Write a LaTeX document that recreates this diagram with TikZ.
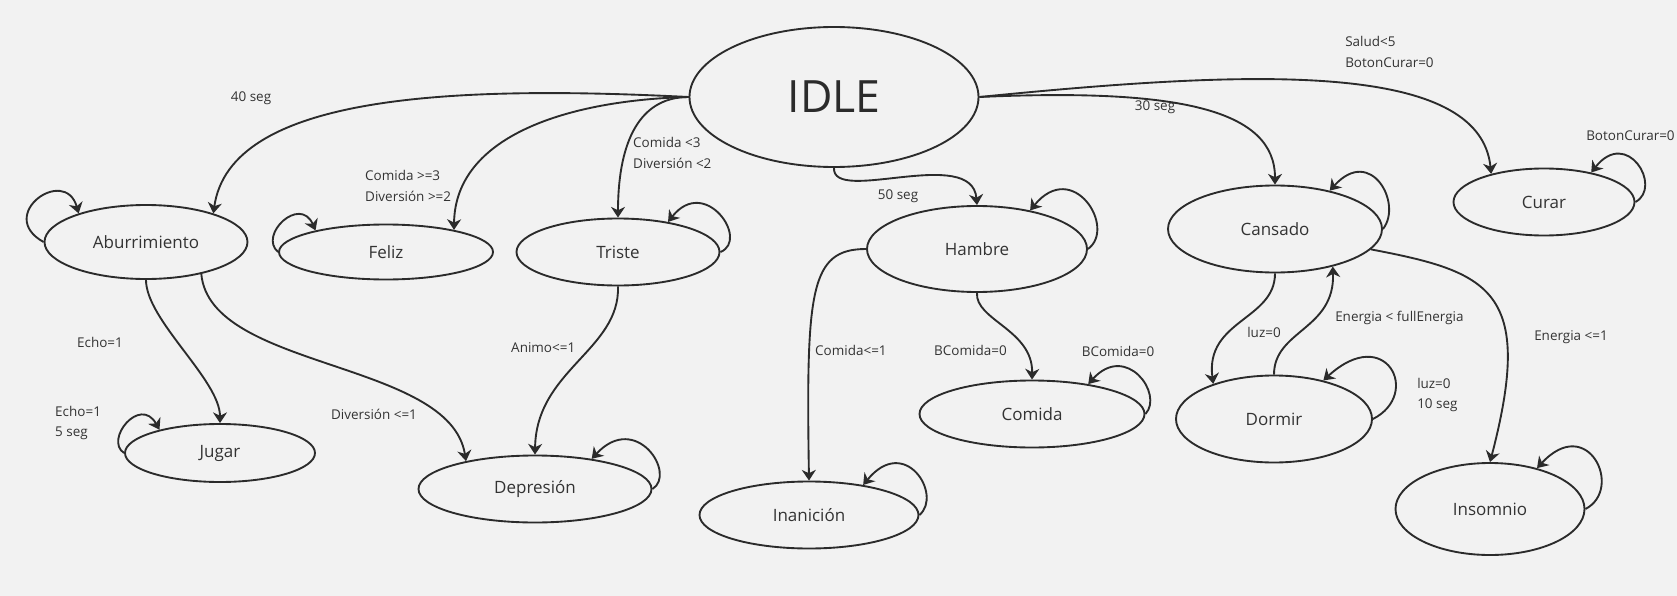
\documentclass[tikz,border=0pt]{standalone}
\usepackage{fontspec}
\setmainfont{Open Sans}
\usetikzlibrary{positioning, shapes.geometric, arrows.meta}
\definecolor{bgGrey}{HTML}{F2F2F2}
\definecolor{inkDark}{HTML}{2B2B2B}
\definecolor{txtGrey}{HTML}{333333}

\begin{document}
\begin{tikzpicture}[x=0.3mm, y=-0.3mm,
    state/.style={draw=inkDark, ellipse, line width=1.6pt, inner sep=0pt,
                  font=\fontsize{14.5}{17}\selectfont, text=txtGrey},
    arr/.style={-{Stealth[length=3.2mm, width=4.2mm, inset=1mm]}, line width=1.6pt, draw=inkDark},
    cond/.style={font=\fontsize{11.5}{17.5}\selectfont, text=txtGrey, align=left, inner sep=0pt},
]
\fill[bgGrey] (0,0) rectangle (1677,596);
\useasboundingbox (0,0) rectangle (1677,596);

% states
\node[state, minimum width=86.7mm, minimum height=42mm, font=\fontsize{38}{40}\selectfont, text=inkDark] (idle) at (834,97) {IDLE};
\node[state, minimum width=60.9mm, minimum height=22.2mm] (aburr) at (146,242) {Aburrimiento};
\node[state, minimum width=64.2mm, minimum height=16.5mm] (feliz) at (386,252) {Feliz};
\node[state, minimum width=60.9mm, minimum height=20.1mm] (triste) at (618,252) {Triste};
\node[state, minimum width=66mm, minimum height=25.8mm] (hambre) at (977,249) {Hambre};
\node[state, minimum width=64.2mm, minimum height=26.1mm] (cansado) at (1275,229) {Cansado};
\node[state, minimum width=54.3mm, minimum height=20.1mm] (curar) at (1544,202) {Curar};
\node[state, minimum width=57mm, minimum height=17.4mm] (jugar) at (220,453) {Jugar};
\node[state, minimum width=69.9mm, minimum height=20.1mm] (depresion) at (535,489) {Depresión};
\node[state, minimum width=65.7mm, minimum height=20.1mm] (inanicion) at (809,515) {Inanición};
\node[state, minimum width=67.5mm, minimum height=20.1mm] (comida) at (1032,414) {Comida};
\node[state, minimum width=58.8mm, minimum height=26.1mm] (dormir) at (1274,419) {Dormir};
\node[state, minimum width=56.7mm, minimum height=27.6mm] (insomnio) at (1490,509) {Insomnio};

% transitions out of IDLE
\draw[arr] (idle.west) .. controls (450,85) and (230,95) .. (aburr.23);
\draw[arr] (idle.west) .. controls (570,100) and (455,135) .. (feliz.18);
\draw[arr] (idle.west) .. controls (635,97) and (618,150) .. (triste.north);
\draw[arr] (idle.south) .. controls (832,205) and (972,145) .. (hambre.north);
\draw[arr] (idle.east) .. controls (1180,88) and (1275,110) .. (cansado.north);
\draw[arr] (idle.east) .. controls (1250,70) and (1480,60) .. (curar.152);

% other transitions
\draw[arr] (aburr.south) .. controls (146,320) and (220,380) .. (jugar.north);
\draw[arr] (aburr.-30) .. controls (210,370) and (450,360) .. (depresion.158);
\draw[arr] (triste.south) .. controls (620,350) and (536,370) .. (depresion.north);
\draw[arr] (hambre.west) .. controls (810,249) and (806,290) .. (inanicion.north);
\draw[arr] (hambre.south) .. controls (975,320) and (1033,330) .. (comida.north);
\draw[arr] (cansado.south) .. controls (1275,320) and (1205,320) .. (dormir.150);
\draw[arr] (dormir.north) .. controls (1274,330) and (1335,330) .. (cansado.-33);
\draw[arr] (cansado.-12) .. controls (1490,272) and (1535,290) .. (insomnio.north);

% self loops
\draw[arr] (aburr.west) .. controls (-5,215) and (65,165) .. (aburr.157);
\draw[arr] (feliz.west) .. controls (258,235) and (300,195) .. (feliz.163);
\draw[arr] (jugar.west) .. controls (104,440) and (140,395) .. (jugar.159);
\draw[arr] (triste.east) .. controls (750,240) and (705,175) .. (triste.31);
\draw[arr] (hambre.east) .. controls (1117,228) and (1073,158) .. (hambre.36);
\draw[arr] (cansado.east) .. controls (1403,204) and (1371,145) .. (cansado.35);
\draw[arr] (curar.east) .. controls (1663,187) and (1627,127) .. (curar.32);
\draw[arr] (depresion.east) .. controls (677,474) and (636,411) .. (depresion.28);
\draw[arr] (inanicion.east) .. controls (943,495) and (905,434) .. (inanicion.29);
\draw[arr] (comida.east) .. controls (1164,394) and (1126,342) .. (comida.28);
\draw[arr] (dormir.east) .. controls (1422,394) and (1386,323) .. (dormir.38);
\draw[arr] (insomnio.east) .. controls (1624,489) and (1588,413) .. (insomnio.41);

% conditions
\node[cond] (c40) at (251,98) {40 seg};
\node[cond, anchor=west] (cfeliz) at (365,186) {Comida >=3\\Diversión >=2};
\node[cond, anchor=west] (ctriste) at (633,153) {Comida <3\\Diversión <2};
\node[cond] (c50) at (898,196) {50 seg};
\node[cond] (c30) at (1155,107) {30 seg};
\node[cond, anchor=west] (ccurar) at (1345,52) {Salud<5\\BotonCurar=0};
\node[cond, anchor=west] (ccurarl) at (1586,136) {BotonCurar=0};
\node[cond] (cecho) at (100,342) {Echo=1};
\node[cond, anchor=west] (cjugarl) at (55,423) {Echo=1\\5 seg};
\node[cond] (cdiv) at (374,414) {Diversión <=1};
\node[cond, anchor=west] (canimo) at (511,348) {Animo<=1};
\node[cond, anchor=west] (cinan) at (815,350) {Comida<=1};
\node[cond, anchor=west] (cbcom) at (934,350) {BComida=0};
\node[cond] (cbcoml) at (1118,351) {BComida=0};
\node[cond] (cluz) at (1264,332) {luz=0};
\node[cond, anchor=west] (cener) at (1335,318) {Energia < fullEnergia};
\node[cond, anchor=west] (cdorml) at (1417,395) {luz=0\\10 seg};
\node[cond, anchor=west] (cinsom) at (1534,337) {Energia <=1};
\end{tikzpicture}
\end{document}
